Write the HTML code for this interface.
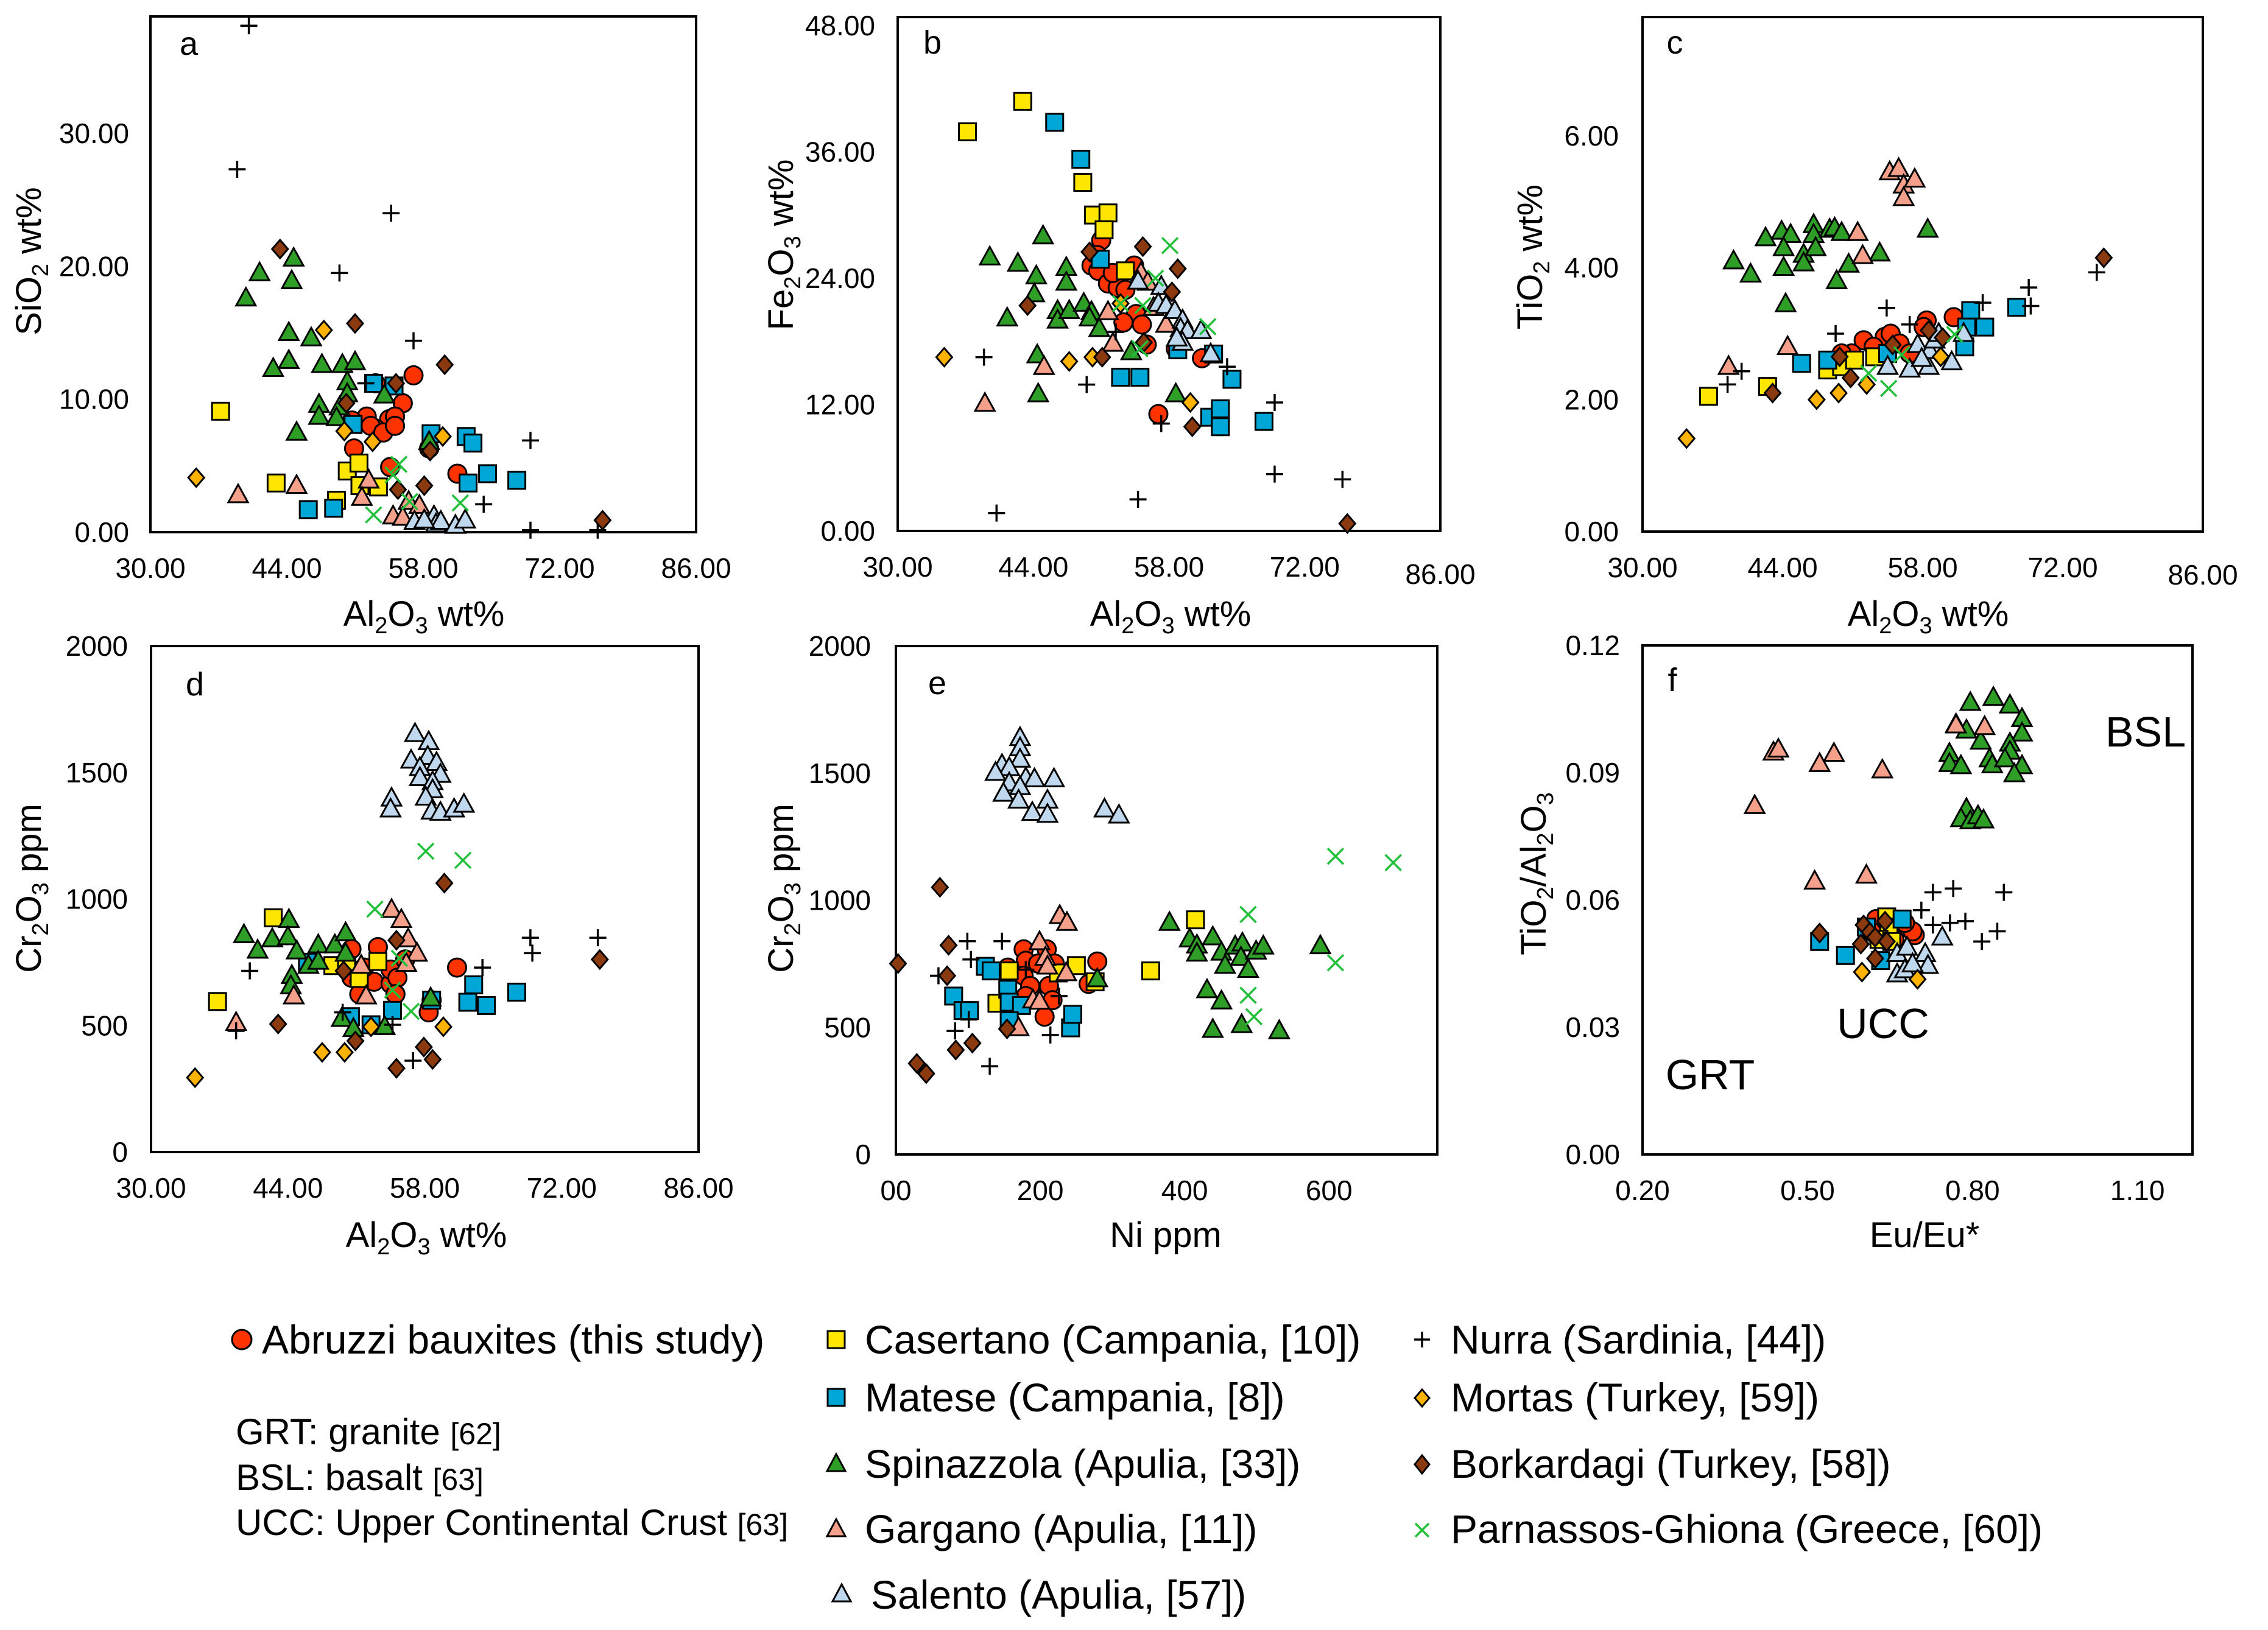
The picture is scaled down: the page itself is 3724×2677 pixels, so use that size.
<!DOCTYPE html>
<html><head><meta charset="utf-8"><style>
html,body{margin:0;padding:0;background:#fff}
svg{display:block}
text{font-family:"Liberation Sans",Arial,sans-serif;fill:#000}
</style></head><body>
<svg id="fig" xmlns="http://www.w3.org/2000/svg" width="3724" height="2677" viewBox="0 0 3724 2677">
<rect x="0" y="0" width="3724" height="2677" fill="#fff"/>
<g id="legend" font-size="66">
  <g><circle cx="397" cy="2200" r="16" fill="#FF3300" stroke="#000" stroke-width="3"/><text x="430" y="2223">Abruzzi bauxites (this study)</text></g>
  <g><rect x="1359" y="2186" width="28" height="28" fill="#FFE600" stroke="#000" stroke-width="3"/><text x="1420" y="2223">Casertano (Campania, [10])</text></g>
  <g><path d="M2322 2200h26M2335 2187v26" stroke="#000" stroke-width="3.5"/><text x="2382" y="2223">Nurra (Sardinia, [44])</text></g>
  <g><rect x="1359" y="2281" width="28" height="28" fill="#00A6D6" stroke="#000" stroke-width="3"/><text x="1420" y="2318">Matese (Campania, [8])</text></g>
  <g><path d="M2335 2282l12 14-12 14-12-14z" fill="#FFB300" stroke="#000" stroke-width="3"/><text x="2382" y="2318">Mortas (Turkey, [59])</text></g>
  <g><path d="M1373 2388l15 28h-30z" fill="#2E9E27" stroke="#000" stroke-width="3"/><text x="1420" y="2427">Spinazzola (Apulia, [33])</text></g>
  <g><path d="M2335 2390l12 15-12 15-12-15z" fill="#8B3A0F" stroke="#000" stroke-width="3"/><text x="2382" y="2427">Borkardagi (Turkey, [58])</text></g>
  <g><path d="M1373 2495l15 28h-30z" fill="#F4A08A" stroke="#000" stroke-width="3"/><text x="1420" y="2534">Gargano (Apulia, [11])</text></g>
  <g><path d="M2324 2502l22 22M2346 2502l-22 22" stroke="#22C03A" stroke-width="3.5"/><text x="2382" y="2534">Parnassos-Ghiona (Greece, [60])</text></g>
  <g><path d="M1382 2602l15 28h-30z" fill="#BFD8EE" stroke="#000" stroke-width="3"/><text x="1430" y="2642">Salento (Apulia, [57])</text></g>
  <g font-size="60">
    <text x="387" y="2372">GRT: granite <tspan font-size="50">[62]</tspan></text>
    <text x="387" y="2447">BSL: basalt <tspan font-size="50">[63]</tspan></text>
    <text x="387" y="2521">UCC: Upper Continental Crust <tspan font-size="50">[63]</tspan></text>
  </g>
</g>
</svg>
<script>
// ---- Data ----
// Panel a: Al2O3 vs SiO2
const a_abr=[[57,11.8],[55.9,9.7],[52.2,8.7],[54.5,8.5],[55.1,8.7],[53.1,7.8],[52.6,8],[50.9,6.3],[53.1,11.2],[58.6,6.3],[61.5,4.4],[54.6,4.9],[53.9,7.5],[55.1,8],[50.7,8.4]];
const a_cas=[[37.2,9.1],[42.9,3.7],[50.2,4.6],[51.4,5.2],[51.5,3.5],[53.4,3.4],[49.1,2.4]];
const a_mat=[[46.2,1.7],[48.8,1.8],[50.8,8.1],[52.9,11.2],[55,11],[58.8,7.4],[62.4,7.2],[63.1,6.7],[62.6,3.7],[64.6,4.4],[67.6,3.9]];
const a_spi=[[39.8,17.6],[41.2,19.5],[44.5,18.9],[44.7,20.6],[44.2,15],[46.5,14.6],[42.6,12.3],[44.2,12.9],[47.6,12.6],[49.7,12.6],[51,12.8],[50.2,11.3],[50.2,10.4],[54,10.3],[47.3,9.6],[49.4,9.4],[47.3,8.7],[49.1,8.6],[45,7.5],[58.6,6.8]];
const a_gar=[[39,2.8],[45,3.5],[52.4,3.9],[51.7,2.6],[56.5,2.3],[57.6,2],[54.9,1.2],[55.9,1.1]];
const a_sal=[[57.1,0.8],[59.1,1.2],[59.3,0.6],[59.8,0.8],[61.3,0.5],[62.3,0.9],[58.1,0.9]];
const a_nur=[[40.1,38.1],[38.9,27.3],[54.7,24],[49.4,19.5],[57,14.4],[52.1,11.2],[69,6.9],[64.2,2.1],[69,0.15],[75.9,0.15]];
const a_mor=[[34.7,4.1],[47.8,15.2],[49.9,7.6],[52.8,6.8],[60,7.2]];
const a_bor=[[43.3,21.3],[51,15.7],[55.2,11.2],[60.2,12.6],[50.1,9.7],[55.4,3.2],[58.1,3.5],[58.7,6.1],[76.4,0.9]];
const a_par=[[52.9,1.3],[55.5,5.1],[54.9,4.3],[61.8,2.2],[56.6,2.3]];
// Panel b: Al2O3 vs Fe2O3
const b_abr=[[51,27.6],[50,25.2],[50.7,24.7],[51.7,23.5],[52.7,23.1],[53.5,22.9],[54.4,25.2],[52.2,24.5],[54.6,20.6],[53.3,19.8],[55.2,19.6],[55.7,17.7],[58.7,17.3],[61.4,16.4],[56.9,11.1],[50.6,26.2]];
const b_cas=[[37.2,37.9],[42.9,40.8],[49.1,33.1],[50.2,30],[51.7,30.2],[51.3,28.6],[53.5,24.7]];
const b_mat=[[46.2,38.8],[48.9,35.3],[50.9,25.8],[53,14.6],[55,14.6],[58.9,17.2],[62.6,16.8],[64.5,14.4],[62.2,10.8],[63.3,11.6],[63.3,9.9],[67.8,10.4]];
const b_spi=[[39.5,26],[42.4,25.4],[45,28],[44.3,24.2],[44.1,22.5],[47.4,25],[47.4,23.6],[41.3,20.2],[46.5,20.9],[46.5,20],[47.7,20.9],[49.2,21.6],[50,20.8],[49.8,20.2],[50.8,19.2],[44.4,16.7],[44.5,13],[54.1,17],[58.7,13]];
const b_gar=[[39,12.1],[45.1,15.6],[51.7,20.8],[52.2,17.8],[55.1,24.5],[55.8,23.6],[56.4,21.2],[57.7,19.6]];
const b_sal=[[54.8,23.7],[57.2,23.2],[56.9,21.6],[57.7,21.4],[58.6,20.9],[59.4,20],[59.2,19.2],[59.9,19],[61.3,19],[59.4,17.9],[62.3,16.8],[58.8,18.3]];
const b_nur=[[38.9,16.5],[40.2,1.7],[49.5,13.9],[52.5,18.9],[54.8,3],[57.2,10.2],[64,15.6],[68.9,12.2],[68.9,5.4],[75.9,4.9]];
const b_mor=[[34.8,16.5],[47.7,16.1],[50.1,16.5],[53,21.6],[60.2,12.2]];
const b_bor=[[43.4,21.4],[49.8,26.5],[51.1,16.5],[55.3,27],[58.9,24.9],[58.3,22.7],[55.4,17.9],[60.4,9.9],[76.4,0.7]];
const b_par=[[58.1,27.1],[56.6,24],[55.3,21.4],[62,19.4],[55,17.3],[53,21.6]];
// Panel c: Al2O3 vs TiO2
const c_abr=[[58.4,3.2],[61.1,3.25],[52.1,2.9],[54.2,2.95],[54.8,3],[53.1,2.8],[50.9,2.7],[49.9,2.7],[55.7,2.85],[56.7,2.7],[58.1,3.1]];
const c_cas=[[36.6,2.05],[42.5,2.2],[48.5,2.45],[49.9,2.5],[51.2,2.6],[53.2,2.65]];
const c_mat=[[45.9,2.55],[48.5,2.6],[54.5,2.7],[62.2,2.8],[62.8,3.35],[62.4,3.1],[64.2,3.1],[67.4,3.4]];
const c_spi=[[39.1,4.1],[40.8,3.9],[42.3,4.45],[43.9,4.55],[44.8,4.5],[44.1,4.3],[44.1,4],[46.1,4.2],[46.1,4.07],[47.1,4.65],[47.1,4.5],[47.3,4.3],[48.7,4.58],[49.2,4.6],[49.9,4.53],[50.6,4.05],[49.4,3.8],[53.7,4.22],[58.5,4.58],[44.3,3.45]];
const c_gar=[[54.7,5.45],[55.6,5.5],[56.1,5.25],[57.2,5.34],[56.1,5.06],[51.5,4.53],[52,4.18],[44.5,2.8],[38.6,2.5]];
const c_sal=[[54.5,2.5],[56.7,2.46],[57.5,2.83],[58.6,2.5],[58.7,2.74],[59.2,2.9],[59.6,3],[60.9,2.57],[62.1,3],[57.9,2.62]];
const c_nur=[[38.5,2.23],[39.9,2.43],[49.3,3],[54.4,3.39],[56.7,3.14],[64,3.47],[68.6,3.7],[68.8,3.42],[75.4,3.93]];
const c_mor=[[34.4,1.41],[47.4,2],[49.6,2.1],[52.4,2.23],[59.8,2.65]];
const c_bor=[[43,2.1],[50.8,2.33],[49.7,2.65],[55,2.83],[58.6,3.05],[60,2.94],[76.1,4.15]];
const c_par=[[52.6,2.4],[54.6,2.17],[55.9,2.68],[61.2,2.99]];
// Panel d: Al2O3 vs Cr2O3
const d_abr=[[50.5,802],[53.2,810],[50.5,689],[51.3,673],[52.8,673],[54.5,665],[54.5,721],[55.2,689],[51.3,624],[55,624],[58.7,600],[58.4,552],[61.3,729],[56,761],[51.8,729]];
const d_cas=[[36.8,595],[42.5,926],[48.6,737],[50,737],[51.3,686],[53.2,753]];
const d_mat=[[46,750],[50.4,535],[52.5,503],[54.7,560],[58.7,600],[62.4,592],[63,661],[64.3,579],[67.4,632]];
const d_spi=[[39.5,858],[40.9,797],[42.4,842],[44.1,918],[44,850],[44.9,794],[44.4,697],[44.3,656],[46.1,737],[47.1,818],[47.1,753],[48.8,818],[49.9,866],[49.9,785],[49.5,527],[50.7,487],[53.9,495],[58.6,608]];
const d_gar=[[38.7,511],[44.6,616],[51.5,737],[52,616],[54.6,958],[55.6,918],[56.3,842],[57.2,785],[56.1,745]];
const d_sal=[[57,1653],[58.4,1621],[58.3,1563],[56.6,1548],[59.2,1539],[57.5,1519],[59.6,1492],[57.5,1479],[58.8,1463],[58.8,1431],[58.1,1402],[54.6,1398],[54.5,1355],[58.7,1347],[59.6,1342],[61,1355],[62,1374]];
const d_nur=[[40.1,716],[38.7,479],[49.6,552],[54.7,503],[56.8,361],[63.9,729],[68.8,847],[69,786],[75.7,847]];
const d_mor=[[34.5,294],[47.5,394],[49.8,394],[52.5,495],[59.9,495]];
const d_bor=[[43,506],[49.7,716],[50.9,439],[55.1,837],[55.1,331],[57.9,415],[58.8,366],[60,1063],[75.9,761]];
const d_par=[[52.9,960],[58.1,1189],[61.9,1153],[55.4,766],[54.7,640],[56.6,556]];
// Panel e: Ni vs Cr2O3
const e_abr=[[177,807],[209,807],[180,762],[197,751],[220,751],[155,735],[177,703],[186,663],[212,663],[180,623],[217,607],[206,542],[267,671],[279,759]];
const e_cas=[[157,722],[140,595],[225,714],[250,743],[276,679],[353,722],[415,923]];
const e_mat=[[124,740],[132,722],[80,623],[93,566],[102,566],[155,650],[157,599],[174,586],[157,526],[242,498],[245,551]];
const e_spi=[[379,912],[407,847],[417,823],[417,791],[439,855],[451,795],[456,743],[470,819],[480,831],[478,775],[488,727],[499,799],[509,819],[431,647],[451,603],[439,491],[479,510],[531,486],[588,820],[279,690]];
const e_gar=[[199,836],[227,939],[237,912],[207,775],[210,740],[236,714],[190,607],[199,602],[170,498]];
const e_sal=[[172,1639],[172,1599],[172,1554],[147,1533],[157,1521],[138,1502],[180,1481],[192,1477],[157,1461],[172,1446],[219,1477],[149,1420],[170,1393],[210,1393],[189,1345],[210,1337],[289,1358],[309,1334]];
const e_nur=[[99,839],[147,839],[104,767],[59,703],[180,727],[82,486],[101,531],[130,347],[214,470],[226,623]];
const e_mor=[];
const e_bor=[[3,751],[61,1051],[73,823],[71,703],[29,358],[42,318],[83,411],[106,438],[154,494]];
const e_par=[[609,1173],[689,1148],[488,944],[609,754],[488,626],[496,542]];
// Panel f: Eu/Eu* vs TiO2/Al2O3
const f_abr=[[0.625,0.0555],[0.644,0.0536],[0.681,0.0536],[0.695,0.0517],[0.691,0.0526],[0.616,0.0526],[0.658,0.0507],[0.677,0.0546]];
const f_cas=[[0.644,0.056],[0.648,0.0536],[0.63,0.0507],[0.653,0.0502]];
const f_mat=[[0.522,0.0502],[0.569,0.0469],[0.672,0.0555],[0.633,0.0457],[0.607,0.0536]];
const f_spi=[[0.796,0.1065],[0.838,0.1077],[0.868,0.1059],[0.89,0.1027],[0.77,0.1014],[0.789,0.1],[0.89,0.0993],[0.815,0.0974],[0.868,0.0969],[0.868,0.095],[0.758,0.0945],[0.758,0.0921],[0.779,0.0916],[0.831,0.0932],[0.836,0.0918],[0.859,0.0932],[0.89,0.0916],[0.876,0.0897],[0.789,0.0815],[0.779,0.0791],[0.796,0.0786],[0.81,0.0798],[0.82,0.0788]];
const f_gar=[[0.438,0.0948],[0.447,0.0955],[0.522,0.0921],[0.548,0.0945],[0.636,0.0906],[0.404,0.0822],[0.77,0.1012],[0.822,0.1008],[0.513,0.0644],[0.607,0.0658]];
const f_sal=[[0.745,0.0512],[0.663,0.0473],[0.681,0.0488],[0.714,0.0473],[0.719,0.0445],[0.663,0.0425],[0.677,0.0435],[0.691,0.0449]];
const f_nur=[[0.728,0.0618],[0.765,0.0627],[0.857,0.0618],[0.707,0.0576],[0.728,0.0541],[0.759,0.0546],[0.787,0.055],[0.817,0.0502],[0.845,0.0526]];
const f_mor=[[0.599,0.043],[0.7,0.0413]];
const f_bor=[[0.522,0.0522],[0.602,0.0541],[0.613,0.0524],[0.623,0.0512],[0.641,0.055],[0.597,0.0496],[0.644,0.0502],[0.623,0.0462]];
const f_par=[];
// Tick labels
const alTicks=[30,44,58,72,86];
const aYTicks=[0,10,20,30];
const bYTicks=[0,12,24,36,48];
const cYTicks=[0,2,4,6];
const crTicks=[0,500,1000,1500,2000];
const niTicks=[0,200,400,600];
const niTickLabels=["00","200","400","600"];
const euTicks=[0.2,0.5,0.8,1.1];
const fYTicks=[0,0.03,0.06,0.09,0.12];

const NS="http://www.w3.org/2000/svg";
const svg=document.getElementById('fig');
function mk(tag,attrs,parent){const e=document.createElementNS(NS,tag);for(const k in attrs)e.setAttribute(k,attrs[k]);(parent||svg).appendChild(e);return e;}

const panels=[
 {id:'a',L:247,R:1143,T:27,B:874,x0:30,x1:86,y0:0,y1:38.8,xt:alTicks,xl:alTicks.map(v=>v.toFixed(2)),yt:aYTicks,yl:aYTicks.map(v=>v.toFixed(2)),ylr:212,xtitle:['Al','2','O','3',' wt%'],ytitle:['SiO','2',' wt%'],ytx:47,yty:429,xtx:696,xty:1028,lx:310,ly:90,data:[a_abr,a_cas,a_mat,a_spi,a_gar,a_sal,a_nur,a_mor,a_bor,a_par],drop:0},
 {id:'b',L:1474,R:2365,T:28,B:872,x0:30,x1:86,y0:0,y1:48.8,xt:alTicks,xl:alTicks.map(v=>v.toFixed(2)),yt:bYTicks,yl:bYTicks.map(v=>v.toFixed(2)),ylr:1437,xtitle:['Al','2','O','3',' wt%'],ytitle:['Fe','2','O','3',' wt%'],ytx:1282,yty:402,xtx:1922,xty:1028,lx:1531,ly:88,data:[b_abr,b_cas,b_mat,b_spi,b_gar,b_sal,b_nur,b_mor,b_bor,b_par],drop:12},
 {id:'c',L:2697,R:3617,T:28,B:873,x0:30,x1:86,y0:0,y1:7.8,xt:alTicks,xl:alTicks.map(v=>v.toFixed(2)),yt:cYTicks,yl:cYTicks.map(v=>v.toFixed(2)),ylr:2658,xtitle:['Al','2','O','3',' wt%'],ytitle:['TiO','2',' wt%'],ytx:2512,yty:422,xtx:3166,xty:1028,lx:2750,ly:88,data:[c_abr,c_cas,c_mat,c_spi,c_gar,c_sal,c_nur,c_mor,c_bor,c_par],drop:12},
 {id:'d',L:248,R:1147,T:1061,B:1892,x0:30,x1:86,y0:0,y1:2000,xt:alTicks,xl:alTicks.map(v=>v.toFixed(2)),yt:crTicks,yl:crTicks.map(v=>String(v)),ylr:210,xtitle:['Al','2','O','3',' wt%'],ytitle:['Cr','2','O','3',' ppm'],ytx:47,yty:1459,xtx:700,xty:2048,lx:320,ly:1142,data:[d_abr,d_cas,d_mat,d_spi,d_gar,d_sal,d_nur,d_mor,d_bor,d_par],drop:0},
 {id:'e',L:1471,R:2360,T:1061,B:1896,x0:0,x1:750,y0:0,y1:2000,xt:niTicks,xl:niTickLabels,yt:crTicks,yl:crTicks.map(v=>String(v)),ylr:1430,xtitle:['Ni ppm'],ytitle:['Cr','2','O','3',' ppm'],ytx:1282,yty:1459,xtx:1914,xty:2048,lx:1539,ly:1140,data:[e_abr,e_cas,e_mat,e_spi,e_gar,e_sal,e_nur,e_mor,e_bor,e_par],drop:0},
 {id:'f',L:2697,R:3600,T:1060,B:1896,x0:0.2,x1:1.2,y0:0,y1:0.12,xt:euTicks,xl:euTicks.map(v=>v.toFixed(2)),yt:fYTicks,yl:fYTicks.map(v=>v.toFixed(2)),ylr:2660,xtitle:['Eu/Eu*'],ytitle:['TiO','2','/Al','2','O','3'],ytx:2518,yty:1435,xtx:3160,xty:2048,lx:2746,ly:1135,data:[f_abr,f_cas,f_mat,f_spi,f_gar,f_sal,f_nur,f_mor,f_bor,f_par],drop:0}
];
const seriesNames=['abruzzi','casertano','matese','spinazzola','gargano','salento','nurra','mortas','borkardagi','parnassos'];

function addTitle(g,parts,x,y,rot){
  const t=mk('text',{x:x,y:y,'font-size':58,'text-anchor':'middle'},g);
  if(rot) t.setAttribute('transform','rotate(-90 '+x+' '+y+')');
  parts.forEach((p,i)=>{const sub=/^\d$/.test(p);const ts=mk('tspan',{},t);ts.textContent=p;if(sub){ts.setAttribute('font-size','38');ts.setAttribute('dy','12');}else if(i>0&&/^\d$/.test(parts[i-1])){ts.setAttribute('dy','-12');}});
  return t;
}
function marker(g,type,x,y){
  let e;
  if(type===0){e=mk('circle',{cx:x,cy:y,r:15,fill:'#FF3300',stroke:'#000','stroke-width':3},g);}
  else if(type===1||type===2){e=mk('rect',{x:x-14,y:y-14,width:28,height:28,fill:type===1?'#FFE600':'#00A6D6',stroke:'#000','stroke-width':3},g);}
  else if(type>=3&&type<=5){const c=['#2E9E27','#F4A08A','#BFD8EE'][type-3];e=mk('path',{d:'M'+x+' '+(y-17)+'l16 29h-32z',fill:c,stroke:'#000','stroke-width':3},g);}
  else if(type===6){e=mk('path',{d:'M'+(x-14)+' '+y+'h28M'+x+' '+(y-14)+'v28',stroke:'#000','stroke-width':3.5,fill:'none'},g);}
  else if(type===7||type===8){e=mk('path',{d:'M'+x+' '+(y-15)+'l13 15-13 15-13-15z',fill:type===7?'#FFB300':'#8B3A0F',stroke:'#000','stroke-width':3},g);}
  else {e=mk('path',{d:'M'+(x-13)+' '+(y-13)+'l26 26M'+(x+13)+' '+(y-13)+'l-26 26',stroke:'#22C03A','stroke-width':3.5,fill:'none'},g);}
  return e;
}

panels.forEach(p=>{
  const g=mk('g',{});
  
  
  const sx=v=>p.L+(v-p.x0)/(p.x1-p.x0)*(p.R-p.L);
  const sy=v=>p.B-(v-p.y0)/(p.y1-p.y0)*(p.B-p.T);
  const frame=mk('rect',{x:p.L,y:p.T,width:p.R-p.L,height:p.B-p.T,fill:'none',stroke:'#000','stroke-width':4},g);
  
  
  const xg=mk('g',{'font-size':46,'text-anchor':'middle'},g);
  
  
  p.xt.forEach((v,i)=>{const t=mk('text',{x:sx(v),y:p.B+75+((i===p.xt.length-1)?p.drop:0)},xg);t.textContent=p.xl[i];});
  const yg=mk('g',{'font-size':46,'text-anchor':'end'},g);
  
  
  p.yt.forEach((v,i)=>{const t=mk('text',{x:p.ylr,y:sy(v)+16},yg);t.textContent=p.yl[i];});
  const xt=addTitle(g,p.xtitle,p.xtx,p.xty,false);
  
  
  const yt=addTitle(g,p.ytitle,p.ytx+20,p.yty,true);
  
  
  const lt=mk('text',{x:p.lx,y:p.ly,'font-size':54,'text-anchor':'middle'},g);
  lt.textContent=p.id;
  
  
  p.data.forEach((ser,si)=>{
    const sg=mk('g',{},g);
    
    
    ser.forEach(d=>{const m=marker(sg,si,sx(d[0]),sy(d[1]));
      
      });
  });
  if(p.id==='f'){
    [['BSL',3523,1226,'label-bsl'],['UCC',3092,1705,'label-ucc'],['GRT',2808,1789,'label-grt']].forEach(a=>{
      const t=mk('text',{x:a[1],y:a[2],'font-size':70,'text-anchor':'middle'},g);
      t.textContent=a[0];
      
      
    });
  }
});
</script>
</body></html>
